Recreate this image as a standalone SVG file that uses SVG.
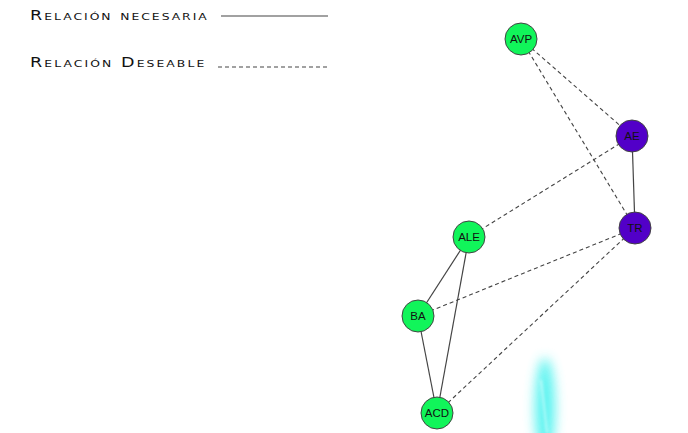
<svg xmlns="http://www.w3.org/2000/svg" width="688" height="433" viewBox="0 0 688 433">
  <style>
    .legend { font-family: "DejaVu Sans", "Liberation Sans", sans-serif; font-size: 13.5px; font-variant: small-caps; fill: #111; }
    .solid { stroke: #444; stroke-width: 1.2; fill: none; }
    .dash { stroke: #444; stroke-width: 1.1; stroke-dasharray: 4 3; fill: none; }
    .green { fill: #11f55a; stroke: #444; stroke-width: 1; }
    .purple { fill: #5200c8; stroke: #444; stroke-width: 1; }
    .lbl { font-family: "Liberation Sans", Arial, sans-serif; font-size: 11.5px; fill: #111; text-anchor: middle; dominant-baseline: central; }
  </style>
  <defs>
    <filter id="glow" x="-150%" y="-50%" width="400%" height="200%">
      <feGaussianBlur stdDeviation="6"/>
    </filter>
    <filter id="soft" x="-200%" y="-20%" width="500%" height="140%">
      <feGaussianBlur stdDeviation="1.5"/>
    </filter>
  </defs>
  <rect width="688" height="433" fill="#fff"/>

  <!-- legend -->
  <g id="legend">
    <g transform="scale(1.3,1)">
      <text class="legend" x="23.08" y="20" textLength="136" lengthAdjust="spacing">Relación necesaria</text>
      <text class="legend" x="23.08" y="67" textLength="134" lengthAdjust="spacing">Relación Deseable</text>
    </g>
    <line class="solid" x1="221" y1="16" x2="328" y2="16"/>
    <line class="dash" x1="218" y1="67" x2="330" y2="67"/>
  </g>

  <!-- light streak near the bottom -->
  <g id="streak">
    <ellipse cx="545" cy="408" rx="10" ry="50" fill="#40f2ee" opacity="0.85" filter="url(#glow)"/>
    <path d="M541 380 Q544 405 547 433" stroke="#f0ffff" stroke-width="1.5" fill="none" opacity="0.8" filter="url(#soft)"/>
  </g>

  <g id="connectors">
    <line class="solid" x1="632" y1="136" x2="635" y2="228"/>
    <line class="solid" x1="469" y1="237" x2="418" y2="316"/>
    <line class="solid" x1="469" y1="237" x2="437" y2="413"/>
    <line class="solid" x1="418" y1="316" x2="437" y2="413"/>
    <line class="dash" x1="521" y1="39" x2="632" y2="136"/>
    <line class="dash" x1="521" y1="39" x2="635" y2="228"/>
    <line class="dash" x1="632" y1="136" x2="469" y2="237"/>
    <line class="dash" x1="635" y1="228" x2="418" y2="316"/>
    <line class="dash" x1="635" y1="228" x2="437" y2="413"/>
  </g>

  <g id="AVP"><circle class="green" cx="521" cy="39" r="16"/><text class="lbl" x="521" y="39">AVP</text></g>
  <g id="AE"><circle class="purple" cx="632" cy="136" r="16"/><text class="lbl" x="632" y="136">AE</text></g>
  <g id="TR"><circle class="purple" cx="635" cy="228" r="16"/><text class="lbl" x="635" y="228">TR</text></g>
  <g id="ALE"><circle class="green" cx="469" cy="237" r="16"/><text class="lbl" x="469" y="237">ALE</text></g>
  <g id="BA"><circle class="green" cx="418" cy="316" r="16"/><text class="lbl" x="418" y="316">BA</text></g>
  <g id="ACD"><circle class="green" cx="437" cy="413" r="16"/><text class="lbl" x="437" y="413">ACD</text></g>
</svg>
